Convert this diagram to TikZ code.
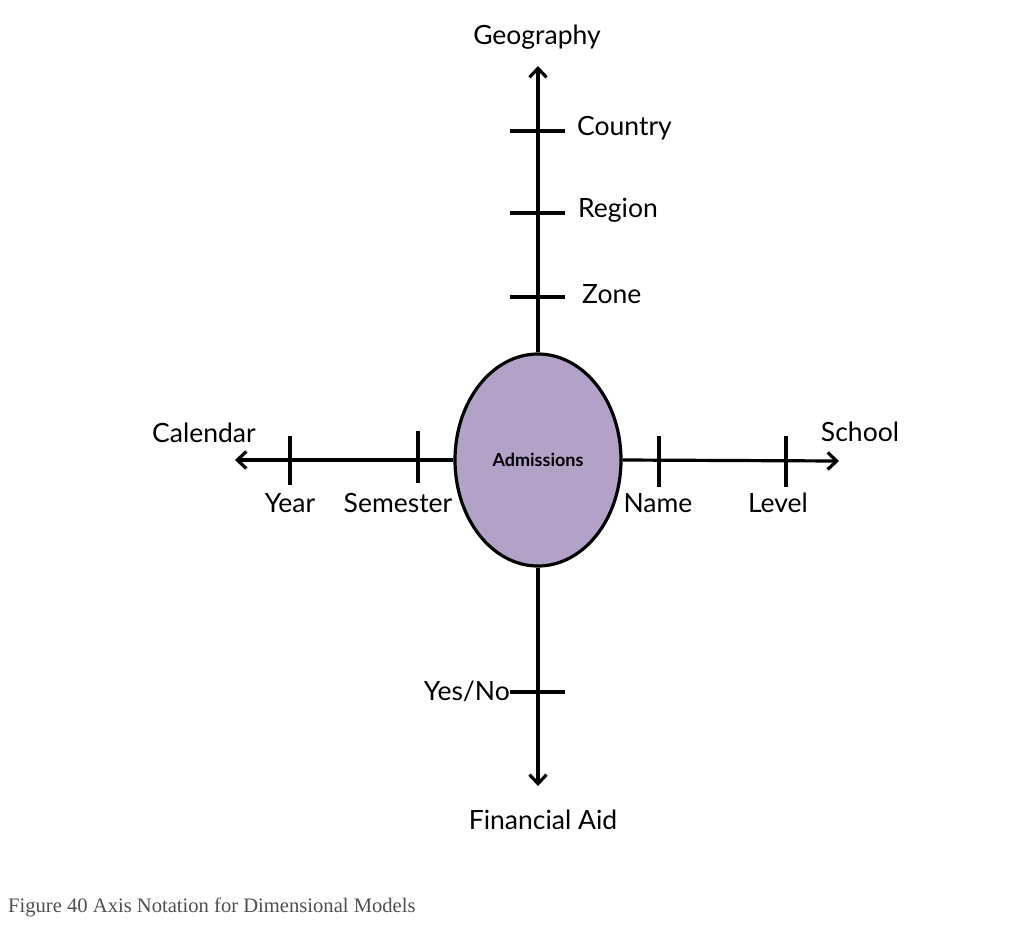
\documentclass[tikz,border=0pt]{standalone}
\usepackage{fontspec}
\setmainfont{Lato}
\newfontfamily\capfont{Liberation Serif}
\usetikzlibrary{arrows.meta,shapes.geometric}
\definecolor{admfill}{HTML}{B3A2C8}
\definecolor{capgray}{HTML}{4F4F4F}
\tikzset{
  axis/.style={line width=3.2pt,-{Straight Barb[length=9pt,width=17pt,line width=3.2pt]}},
  tick/.style={line width=3.2pt},
  lbl/.style={font=\fontsize{26.5}{30}\selectfont,inner sep=0pt},
}
\begin{document}
\begin{tikzpicture}[x=1pt,y=-1pt]
\useasboundingbox (0,0) rectangle (1036,927);
\node[ellipse,draw,line width=3.2pt,fill=admfill,minimum width=166pt,minimum height=212pt,inner sep=0pt,font=\bfseries\fontsize{18}{21}\selectfont] (adm) at (538,460) {Admissions};
% axis end coordinates
\coordinate (geoE) at (538,66);
\coordinate (finE) at (538,786);
\coordinate (calE) at (235,460);
\coordinate (schE) at (839,461);
\draw[axis] (adm.north) -- (geoE);
\draw[axis] (adm.south) -- (finE);
\draw[axis] (adm.west) -- (calE);
\draw[axis] (adm.east) -- (schE);
% ticks
\coordinate (c1) at (510,131); \coordinate (c2) at (565,131);
\coordinate (r1) at (510,213); \coordinate (r2) at (565,213);
\coordinate (z1) at (510,297); \coordinate (z2) at (565,297);
\coordinate (y1) at (510,692); \coordinate (y2) at (565,692);
\coordinate (ye1) at (290,436); \coordinate (ye2) at (290,485);
\coordinate (se1) at (418,431); \coordinate (se2) at (418,483);
\coordinate (na1) at (659,436); \coordinate (na2) at (659,487);
\coordinate (le1) at (786,436); \coordinate (le2) at (786,487);
\draw[tick] (c1) -- (c2);
\draw[tick] (r1) -- (r2);
\draw[tick] (z1) -- (z2);
\draw[tick] (y1) -- (y2);
\draw[tick] (ye1) -- (ye2);
\draw[tick] (se1) -- (se2);
\draw[tick] (na1) -- (na2);
\draw[tick] (le1) -- (le2);
% labels
\node[lbl] (geo) at (537,37) {Geography};
\node[lbl,anchor=west] (country) at (577,128) {Country};
\node[lbl,anchor=west] (region) at (578,210) {Region};
\node[lbl,anchor=west] (zone) at (582,294) {Zone};
\node[lbl] (cal) at (204,433) {Calendar};
\node[lbl] (year) at (290,503) {Year};
\node[lbl] (sem) at (398,503) {Semester};
\node[lbl] (name) at (658,503) {Name};
\node[lbl] (level) at (778,503) {Level};
\node[lbl] (school) at (860,432) {School};
\node[lbl,anchor=east] (yesno) at (510,691) {Yes/No};
\node[lbl] (fin) at (543,820) {Financial Aid};
\node[anchor=west,inner sep=0pt,text=capgray,font=\capfont\fontsize{20.6}{24}\selectfont] (cap) at (8,907) {Figure 40 Axis Notation for Dimensional Models};
\end{tikzpicture}
\end{document}
